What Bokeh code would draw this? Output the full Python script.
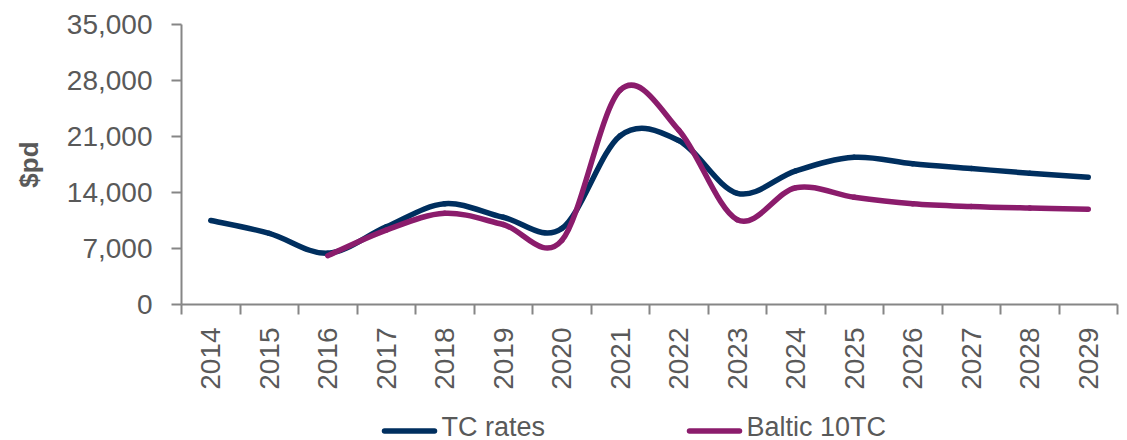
from math import pi

from bokeh.core.properties import value
from bokeh.embed import file_html
from bokeh.layouts import column
from bokeh.models import FixedTicker, NumeralTickFormatter, Range1d
from bokeh.plotting import figure
from bokeh.resources import INLINE

# Yearly time-charter rates, $ per day
years = [2014, 2015, 2016, 2017, 2018, 2019, 2020, 2021,
         2022, 2023, 2024, 2025, 2026, 2027, 2028, 2029]
tc_rates = [10500, 8900, 6400, 9700, 12600, 10900, 9500, 21100,
            20500, 13900, 16700, 18400, 17600, 17000, 16400, 15900]

baltic_years = [2016, 2017, 2018, 2019, 2020, 2021, 2022,
                2023, 2024, 2025, 2026, 2027, 2028, 2029]
baltic_10tc = [6100, 9300, 11400, 10000, 8000, 26800, 21800,
               10600, 14600, 13400, 12600, 12250, 12050, 11900]

y_ticks = [0, 7000, 14000, 21000, 28000, 35000]

series_names = ["TC rates", "Baltic 10TC"]

FONT = "Liberation Sans"
TEXT = "#595959"
AXIS = "#868686"
NAVY = "#002f5f"
PLUM = "#8b1c6c"
LW = 5.5

LEFT, RIGHT, WIDTH = 181, 10, 1127


def smooth_segments(xs, ys):
    """Cubic Bezier segments through every point (Catmull-Rom tangents)."""
    n = len(xs)
    seg = dict(x0=[], y0=[], x1=[], y1=[], cx0=[], cy0=[], cx1=[], cy1=[])
    for i in range(n - 1):
        a = max(i - 1, 0)
        d = min(i + 2, n - 1)
        seg["x0"].append(xs[i])
        seg["y0"].append(ys[i])
        seg["x1"].append(xs[i + 1])
        seg["y1"].append(ys[i + 1])
        seg["cx0"].append(xs[i] + (xs[i + 1] - xs[a]) / 6)
        seg["cy0"].append(ys[i] + (ys[i + 1] - ys[a]) / 6)
        seg["cx1"].append(xs[i + 1] - (xs[d] - xs[i]) / 6)
        seg["cy1"].append(ys[i + 1] - (ys[d] - ys[i]) / 6)
    return seg


# ---- main chart -------------------------------------------------------
p = figure(
    width=WIDTH, height=400,
    output_backend="svg", toolbar_location=None,
    x_range=Range1d(years[0] - 0.5, years[-1] + 0.5),
    y_range=Range1d(y_ticks[0], y_ticks[-1]),
    min_border_left=LEFT, min_border_right=RIGHT,
    min_border_top=24, min_border_bottom=96,
)
p.title.visible = False
p.grid.visible = False
p.outline_line_color = None
p.background_fill_color = "white"
p.border_fill_color = "white"

# category-style x axis: labels at the years, tick marks between them
xa = p.xaxis[0]
xa.ticker = FixedTicker(ticks=years,
                        minor_ticks=[y - 0.5 for y in years] + [years[-1] + 0.5])
xa.major_tick_out = 0
xa.major_tick_in = 0
xa.minor_tick_out = 10
xa.minor_tick_in = 0
xa.minor_tick_line_color = AXIS
xa.minor_tick_line_width = 2
xa.major_label_orientation = pi / 2
xa.major_label_standoff = 13

ya = p.yaxis[0]
ya.ticker = FixedTicker(ticks=y_ticks, minor_ticks=[])
ya.formatter = NumeralTickFormatter(format="0,0")
ya.major_tick_out = 10
ya.major_tick_in = 0
ya.major_tick_line_color = AXIS
ya.major_tick_line_width = 2
ya.major_label_standoff = 19
ya.axis_label = "$pd"
ya.axis_label_text_font = FONT
ya.axis_label_text_font_style = "bold"
ya.axis_label_text_font_size = "26px"
ya.axis_label_text_color = TEXT
ya.axis_label_standoff = 20

for ax in (xa, ya):
    ax.axis_line_color = AXIS
    ax.axis_line_width = 2
    ax.major_label_text_font = FONT
    ax.major_label_text_font_size = "28px"
    ax.major_label_text_color = TEXT

tc = smooth_segments(years, tc_rates)
bt = smooth_segments(baltic_years, baltic_10tc)
p.bezier(x0="x0", y0="y0", x1="x1", y1="y1", cx0="cx0", cy0="cy0",
         cx1="cx1", cy1="cy1", source=tc, line_color=NAVY, line_width=LW,
         line_cap="round")
p.bezier(x0="x0", y0="y0", x1="x1", y1="y1", cx0="cx0", cy0="cy0",
         cx1="cx1", cy1="cy1", source=bt, line_color=PLUM, line_width=LW,
         line_cap="round")

# ---- legend strip underneath (pixel-like coordinates) -----------------
leg = figure(
    width=WIDTH, height=40,
    output_backend="svg", toolbar_location=None,
    x_range=Range1d(LEFT, WIDTH - RIGHT), y_range=Range1d(40, 0),
    min_border_left=LEFT, min_border_right=RIGHT,
    min_border_top=0, min_border_bottom=0,
)
leg.title.visible = False
leg.axis.visible = False
leg.grid.visible = False
leg.outline_line_color = None
leg.background_fill_color = "white"
leg.border_fill_color = "white"

key_x = [384, 689]
key_colors = [NAVY, PLUM]
for x0, color in zip(key_x, key_colors):
    leg.line(x=[x0, x0 + 50], y=[30.5, 30.5], line_color=color,
             line_width=LW, line_cap="round")
leg.text(x=[x0 + 57 for x0 in key_x], y=[26, 26], text=series_names,
         text_font=value(FONT), text_font_size="27px", text_color=TEXT,
         text_baseline="middle", text_align="left")

page = column(p, leg, spacing=0)
open("out.html", "w").write(file_html(page, INLINE))
